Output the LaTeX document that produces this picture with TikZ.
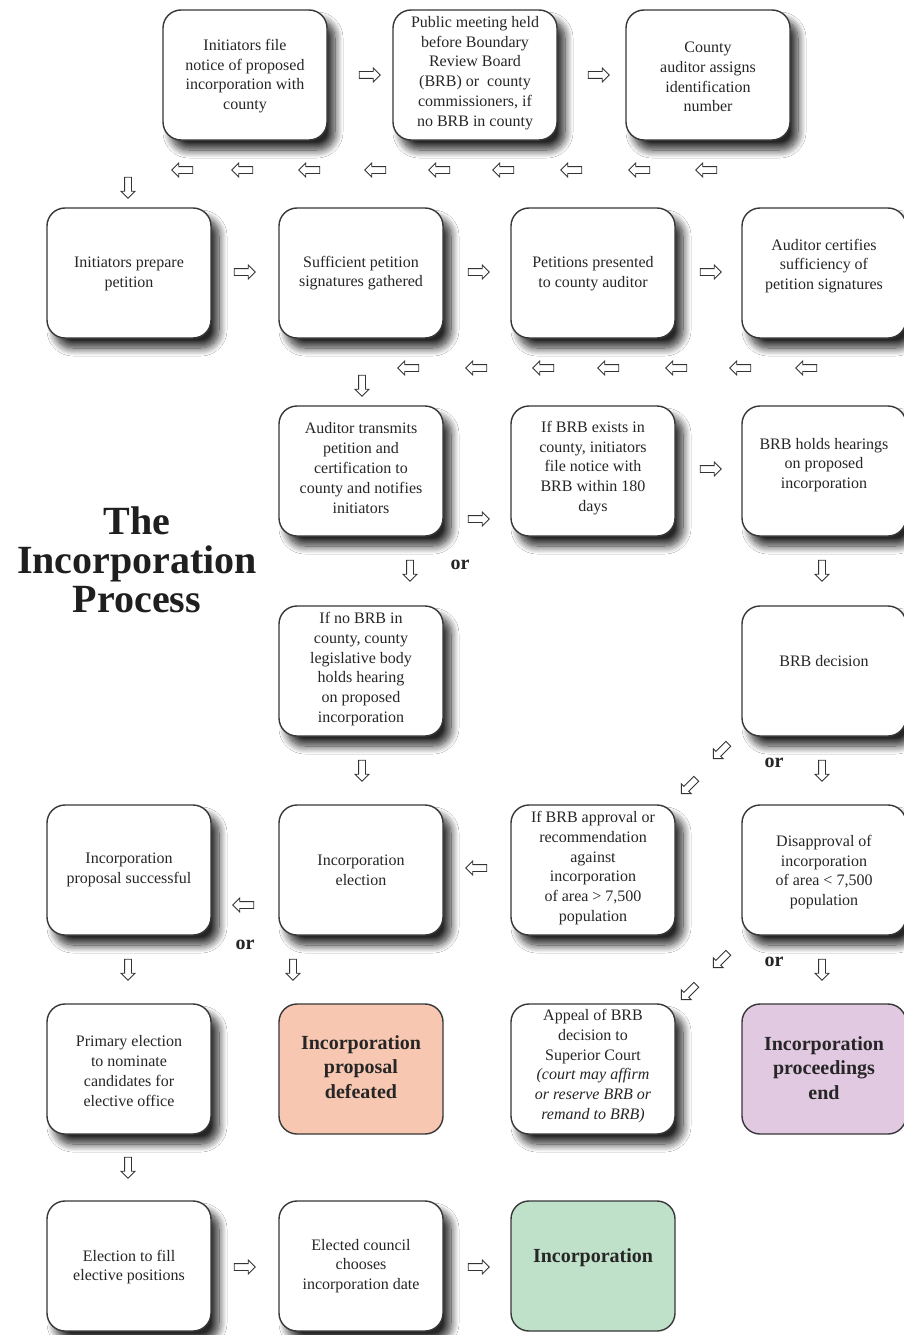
\documentclass[tikz,border=0pt]{standalone}
\usepackage{fontspec}
\setmainfont{Liberation Serif}
\usetikzlibrary{shapes.arrows,shadows.blur}
\definecolor{salmon}{RGB}{248,199,177}
\definecolor{lilac}{RGB}{226,201,226}
\definecolor{mint}{RGB}{191,225,202}
\definecolor{edge}{RGB}{55,55,55}
\begin{document}
\begin{tikzpicture}[x=1pt,y=-1pt,
  box/.style={draw=edge, line width=1.4pt, rounded corners=18pt, minimum width=164pt, minimum height=130pt, fill=white,
    blur shadow={shadow xshift=8pt, shadow yshift=-10pt, shadow blur radius=8pt, shadow blur steps=14, shadow opacity=85}},
  cbox/.style={draw=edge, line width=1.4pt, rounded corners=18pt, minimum width=164pt, minimum height=130pt},
  txt/.style={align=center, font=\fontsize{16}{19.8}\selectfont, inner sep=0pt, text=black!85},
  btxt/.style={align=center, font=\fontsize{20}{24.5}\selectfont\bfseries, inner sep=0pt, text=black!85},
  orlab/.style={font=\fontsize{20}{24}\selectfont\bfseries, inner sep=0pt, text=black!85},
  arrbase/.style={shape=single arrow, draw=black!80, fill=white, line width=0.9pt, minimum height=21pt, minimum width=13pt, inner sep=3pt, single arrow head extend=3.5pt},
  rarr/.style={arrbase},
  larr/.style={arrbase, rotate=180},
  darr/.style={arrbase, rotate=270},
  dlarr/.style={arrbase, rotate=225},
]
\useasboundingbox (0,0) rectangle (904,1335);
\fill[white] (0,0) rectangle (904,1335);

% Title
\node[align=center, inner sep=0pt, font=\fontsize{40}{39}\selectfont\bfseries, text=black!88] (title) at (137,560) {The\\Incorporation\\Process};

% Row 1
\node[box] (A) at (245,75) {};
\node[txt] (At) at (245,76) {Initiators file\\notice of proposed\\incorporation with\\county};
\node[box] (B) at (475,75) {};
\node[txt] (Bt) at (475,73) {Public meeting held\\before Boundary\\Review Board\\(BRB) or\ \ county\\commissioners, if\\no BRB in county};
\node[box] (C) at (708,75) {};
\node[txt] (Ct) at (708,77) {County\\auditor assigns\\identification\\number};
\node[rarr] (r1) at (368,75) {};
\node[rarr] (r2) at (597,75) {};
\foreach \x [count=\i] in {184,244,311,377,441,505,573,641,708}
  \node[larr] (la\i) at (\x,170) {};
\node[darr] (d1) at (128,186) {};

% Row 2
\node[box] (D) at (129,273) {};
\node[txt] (Dt) at (129,274) {Initiators prepare\\petition};
\node[box] (E) at (361,273) {};
\node[txt] (Et) at (361,273) {Sufficient petition\\signatures gathered};
\node[box] (F) at (593,273) {};
\node[txt] (Ft) at (593,274) {Petitions presented\\to county auditor};
\node[box] (G) at (824,273) {};
\node[txt] (Gt) at (824,266) {Auditor certifies\\sufficiency of\\petition signatures};
\node[rarr] (r3) at (243,272) {};
\node[rarr] (r4) at (477,272) {};
\node[rarr] (r5) at (709,272) {};
\foreach \x [count=\i] in {410,478,545,610,678,742,808}
  \node[larr] (lb\i) at (\x,368) {};
\node[darr] (d2) at (362,384) {};

% Row 3
\node[box] (H) at (361,471) {};
\node[txt] (Ht) at (361,468) {Auditor transmits\\petition and\\certification to\\county and notifies\\initiators};
\node[box] (I) at (593,471) {};
\node[txt] (It) at (593,468) {If BRB exists in\\county, initiators\\file notice with\\BRB within 180\\days};
\node[box] (J) at (824,471) {};
\node[txt] (Jt) at (824,465) {BRB holds hearings\\on proposed\\incorporation};
\node[rarr] (r6) at (477,519) {};
\node[rarr] (r7) at (709,469) {};
\node[darr] (d3) at (410,569) {};
\node[orlab] (or1) at (460,565) {or};
\node[darr] (d4) at (822,569) {};

% Row 4
\node[box] (K) at (361,671) {};
\node[txt] (Kt) at (361,669) {If no BRB in\\county, county\\legislative body\\holds hearing\\on proposed\\incorporation};
\node[box] (L) at (824,671) {};
\node[txt] (Lt) at (824,661) {BRB decision};
\node[darr] (d5) at (362,769) {};
\node[dlarr] (g1) at (722,750) {};
\node[dlarr] (g2) at (690,785) {};
\node[orlab] (or2) at (774,763) {or};
\node[darr] (d6) at (822,769) {};

% Row 5
\node[box] (M) at (129,870) {};
\node[txt] (Mt) at (129,870) {Incorporation\\proposal successful};
\node[box] (N) at (361,870) {};
\node[txt] (Nt) at (361,870) {Incorporation\\election};
\node[box] (O) at (593,870) {};
\node[txt] (Ot) at (593,868) {If BRB approval or\\recommendation\\against\\incorporation\\of area > 7,500\\population};
\node[box] (P) at (824,870) {};
\node[txt] (Pt) at (824,872) {Disapproval of\\incorporation\\of area < 7,500\\population};
\node[larr] (l1) at (478,868) {};
\node[larr] (l2) at (245,905) {};
\node[orlab] (or3) at (245,945) {or};
\node[darr] (d7) at (128,968) {};
\node[darr] (d8) at (293,968) {};
\node[dlarr] (g3) at (722,959) {};
\node[dlarr] (g4) at (690,991) {};
\node[orlab] (or4) at (774,962) {or};
\node[darr] (d9) at (822,968) {};

% Row 6
\node[box] (Q) at (129,1069) {};
\node[txt] (Qt) at (129,1071) {Primary election\\to nominate\\candidates for\\elective office};
\node[cbox, fill=salmon] (R) at (361,1069) {};
\node[btxt] (Rt) at (361,1067) {Incorporation\\proposal\\defeated};
\node[box] (S) at (593,1069) {};
\node[txt] (St) at (593,1066) {Appeal of BRB\\decision to\\Superior Court\\\textit{(court may affirm}\\\textit{or reserve BRB or}\\\textit{remand to BRB)}};
\node[cbox, fill=lilac] (T) at (824,1069) {};
\node[btxt] (Tt) at (824,1068) {Incorporation\\proceedings\\end};
\node[darr] (d10) at (128,1166) {};

% Row 7
\node[box] (U) at (129,1266) {};
\node[txt] (Ut) at (129,1267) {Election to fill\\elective positions};
\node[box] (V) at (361,1266) {};
\node[txt] (Vt) at (361,1266) {Elected council\\chooses\\incorporation date};
\node[cbox, fill=mint] (W) at (593,1266) {};
\node[btxt] (Wt) at (593,1258) {Incorporation};
\node[rarr] (r8) at (243,1267) {};
\node[rarr] (r9) at (477,1267) {};
\end{tikzpicture}
\end{document}
